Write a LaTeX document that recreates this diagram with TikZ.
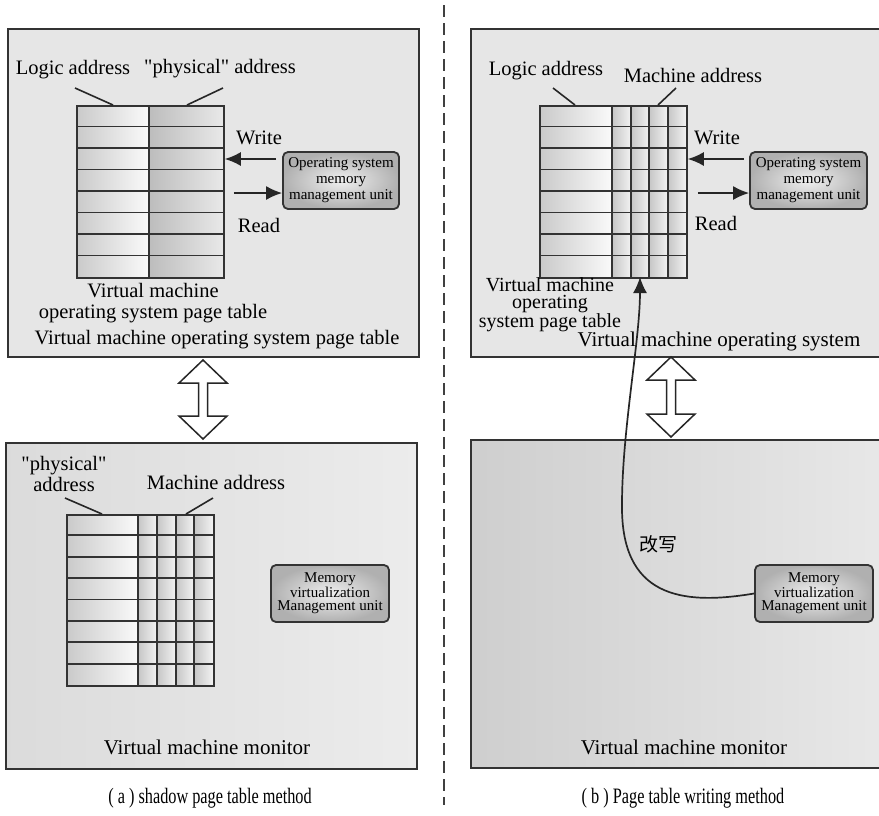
\documentclass[tikz,border=0pt]{standalone}
\usepackage{fontspec}
\setmainfont{Liberation Serif}
\newfontfamily\qfont{Liberation Serif}
\newfontfamily\cjkfont{Noto Sans CJK SC}
\newfontfamily\capfont[FakeStretch=0.74]{Liberation Serif}
\usetikzlibrary{arrows.meta}
\definecolor{panelgray}{HTML}{E6E6E6}
\definecolor{linegray}{HTML}{333333}
\newcommand{\qq}{{\qfont\char34}}
\begin{document}
\begin{tikzpicture}[x=1pt,y=-1pt,
  panel/.style={draw=linegray, line width=1.8pt},
  lbl/.style={font=\fontsize{20.5}{21.5}\selectfont, inner sep=0pt, align=center},
  tightlbl/.style={font=\fontsize{20}{17}\selectfont, inner sep=0pt, align=center},
  caplbl/.style={font=\capfont\fontsize{22}{24}\selectfont, inner sep=0pt},
  unitbox/.style={draw=linegray, line width=1.8pt, rounded corners=5pt, shading=radial,
     inner color=gray!12, outer color=gray!62, minimum width=116pt, minimum height=57pt,
     inner sep=0pt, align=center},
  arr/.style={line width=1.7pt, draw=black!85, -{Latex[length=16pt,width=14pt]}},
  leader/.style={line width=1.6pt, draw=black!85},
  gridline/.style={draw=linegray, line width=1.8pt},
  tblframe/.style={draw=linegray, line width=1.8pt, inner sep=0pt, anchor=north west},
  dblarrow/.style={draw=black!85, line width=1.5pt, fill=white},
  divider/.style={draw=black!75, line width=2.2pt, dash pattern=on 12pt off 6pt}
]
\useasboundingbox (0,0) rectangle (879,815);
\fill[white] (0,0) rectangle (879,815);

% ---------------- divider ----------------
\coordinate (dtop) at (444,5);
\coordinate (dbot) at (444,805);
\draw[divider] (dtop) -- (dbot);

% ---------------- panels ----------------
\draw[panel, fill=panelgray] (8,29) rectangle (419,357);
\draw[panel, fill=panelgray] (471,29) rectangle (890,357);
\draw[panel, left color=gray!28, right color=gray!15] (6,443) rectangle (417,769);
\draw[panel, left color=gray!38, right color=gray!18] (471,440) rectangle (890,768);

% ================= (a) top table =================
\foreach \i in {0,...,7}{
  \shade[left color=gray!42, right color=gray!4] (76,{105+21.5*\i}) rectangle (149,{105+21.5*(\i+1)});
  \shade[left color=gray!52, right color=gray!18] (149,{105+21.5*\i}) rectangle (223,{105+21.5*(\i+1)});
}
\foreach \i in {1,...,7}{ \draw[gridline] (76,{105+21.5*\i}) -- (223,{105+21.5*\i}); }
\draw[gridline] (149,105) -- (149,277);
\node[tblframe, minimum width=147pt, minimum height=172pt] (tL) at (76,105) {};

\node[lbl] (laL) at (73,70) {Logic address};
\node[lbl] (paL) at (220,69) {\qq physical\qq\ address};
\coordinate (laLs) at (75,88);  \coordinate (laLe) at (113,105);
\coordinate (paLs) at (223,88); \coordinate (paLe) at (187,105);
\draw[leader] (laLs) -- (laLe);
\draw[leader] (paLs) -- (paLe);

\node[unitbox, font=\fontsize{15}{16}\selectfont] (osmL) at (341,180.5) {Operating system\\memory\\management unit};
\draw[arr] ([xshift=-6pt]osmL.west |- 0,159) -- (tL.east |- 0,159);
\draw[arr] ([xshift=9pt]tL.east |- 0,193) -- (osmL.west |- 0,193);
\node[lbl] at (259,138) {Write};
\node[lbl] at (259,225) {Read};

\node[lbl] at (153,303) {Virtual machine\\operating system page table};
\node[lbl] at (217,340) {Virtual machine operating system page table};

% ================= (a) bottom table =================
\foreach \i in {0,...,7}{
  \shade[left color=gray!42, right color=gray!4] (66,{514+21.375*\i}) rectangle (138,{514+21.375*(\i+1)});
  \foreach \xa/\xb in {138/157,157/176,176/194,194/213}{
    \shade[left color=gray!45, right color=gray!10] (\xa,{514+21.375*\i}) rectangle (\xb,{514+21.375*(\i+1)});
  }
}
\foreach \i in {1,...,7}{ \draw[gridline] (66,{514+21.375*\i}) -- (213,{514+21.375*\i}); }
\foreach \xx in {138,157,176,194}{ \draw[gridline] (\xx,514) -- (\xx,685); }
\node[tblframe, minimum width=147pt, minimum height=171pt] (tBL) at (66,514) {};

\node[lbl] (phB) at (64,474) {\qq physical\qq\\address};
\node[lbl] (maB) at (216,482) {Machine address};
\coordinate (phBs) at (65,498);  \coordinate (phBe) at (102,514);
\coordinate (maBs) at (213,498); \coordinate (maBe) at (186,514);
\draw[leader] (phBs) -- (phBe);
\draw[leader] (maBs) -- (maBe);

\node[unitbox, minimum width=118pt, font=\fontsize{15}{13.5}\selectfont] (mvL) at (330,593.5) {Memory\\virtualization\\Management unit};

\node[lbl, font=\fontsize{21}{22}\selectfont] at (207,747) {Virtual machine monitor};

% double arrow (a)
\draw[dblarrow] (203,360) -- (227,383) -- (207.5,383) -- (207.5,416) -- (227,416) -- (203,439)
  -- (179,416) -- (198.5,416) -- (198.5,383) -- (179,383) -- cycle;

\node[caplbl] at (210,798) {( a ) shadow page table method};

% ================= (b) top table =================
\foreach \i in {0,...,7}{
  \shade[left color=gray!42, right color=gray!4] (539,{105+21.5*\i}) rectangle (612,{105+21.5*(\i+1)});
  \foreach \xa/\xb in {612/631,631/649,649/668,668/686}{
    \shade[left color=gray!45, right color=gray!10] (\xa,{105+21.5*\i}) rectangle (\xb,{105+21.5*(\i+1)});
  }
}
\foreach \i in {1,...,7}{ \draw[gridline] (539,{105+21.5*\i}) -- (686,{105+21.5*\i}); }
\foreach \xx in {612,631,649,668}{ \draw[gridline] (\xx,105) -- (\xx,277); }
\node[tblframe, minimum width=147pt, minimum height=172pt] (tR) at (539,105) {};

\node[lbl] (laR) at (546,71) {Logic address};
\node[lbl] (maR) at (693,75) {Machine address};
\coordinate (laRs) at (553,88);  \coordinate (laRe) at (575,105);
\coordinate (maRs) at (676,88);  \coordinate (maRe) at (658,105);
\draw[leader] (laRs) -- (laRe);
\draw[leader] (maRs) -- (maRe);

\node[unitbox, minimum width=117pt, font=\fontsize{15}{16}\selectfont] (osmR) at (808.5,180.5) {Operating system\\memory\\management unit};
\draw[arr] ([xshift=-5pt]osmR.west |- 0,159) -- (tR.east |- 0,159);
\draw[arr] ([xshift=10pt]tR.east |- 0,193) -- (osmR.west |- 0,193);
\node[lbl] at (717,138) {Write};
\node[lbl] at (716,223) {Read};

\node[tightlbl] at (550,305) {Virtual machine\\operating\\system page table};
\node[lbl, font=\fontsize{21}{22}\selectfont] at (719,341) {Virtual machine operating system};

% double arrow (b)
\draw[dblarrow] (671,357) -- (695,380) -- (675.5,380) -- (675.5,414) -- (695,414) -- (671,437)
  -- (647,414) -- (666.5,414) -- (666.5,380) -- (647,380) -- cycle;

% ================= (b) bottom =================
\node[unitbox, minimum width=118pt, font=\fontsize{15}{13.5}\selectfont] (mvR) at (814,593.5) {Memory\\virtualization\\Management unit};
\coordinate (tipR) at (640,277);
\draw[arr] (mvR.west) .. controls (680,606) and (621,596) .. (622,505)
  .. controls (622,430) and (640,340) .. (tipR);
\node[lbl, font=\cjkfont\fontsize{19}{20}\selectfont] at (658,544) {改写};

\node[lbl, font=\fontsize{21}{22}\selectfont] at (684,747) {Virtual machine monitor};
\node[caplbl] at (683,798) {( b ) Page table writing method};
\end{tikzpicture}
\end{document}
